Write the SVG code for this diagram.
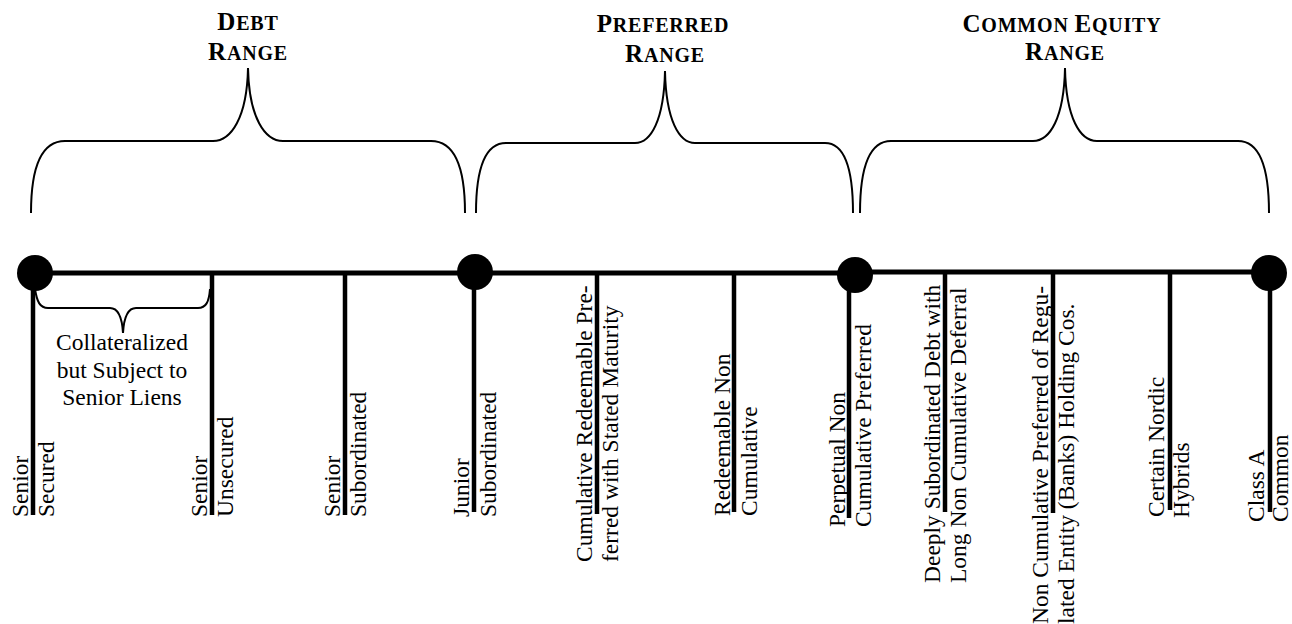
<svg xmlns="http://www.w3.org/2000/svg" width="1292" height="624" viewBox="0 0 1292 624">
<style>
text{font-family:"Liberation Serif","Times New Roman",serif;fill:#000}
.lbl{font-size:23.5px}
.hd{font-weight:bold;font-size:25px;letter-spacing:0.8px}
.sc{font-size:20px}
.brace{fill:none;stroke:#000;stroke-width:2}
.tick{stroke:#000;stroke-width:4.5}
.axis{stroke:#000;stroke-width:5;fill:none}
.dot{fill:#000}
</style>
<g id="connectors">
<path class="axis" d="M35,273 H855 M855,272 H1269"/>
</g>
<g id="debt-range">
<path class="brace" d="M31,213 C31,165 42,141 65,141 L213,141 C231,141 247,118 248,68 C249,118 265,141 283,141 L431,141 C454,141 465,165 465,213"/>
<text class="hd" x="248" y="30" text-anchor="middle">D<tspan class="sc">EBT</tspan></text>
<text class="hd" x="248" y="60" text-anchor="middle">R<tspan class="sc">ANGE</tspan></text>
</g>
<g id="preferred-range">
<path class="brace" d="M476,213 C476,166 486,143 506,143 L635,143 C651,143 664,120 665,71 C666,120 679,143 695,143 L825,143 C844,143 853,166 853,213"/>
<text class="hd" x="663" y="32" text-anchor="middle">P<tspan class="sc">REFERRED</tspan></text>
<text class="hd" x="665" y="62" text-anchor="middle">R<tspan class="sc">ANGE</tspan></text>
</g>
<g id="common-range">
<path class="brace" d="M860,213 C860,165 870,141 891,141 L1033,141 C1050,141 1064,118 1065,68 C1066,118 1080,141 1097,141 L1238,141 C1259,141 1269,165 1269,213"/>
<text class="hd" x="1062" y="32" text-anchor="middle">C<tspan class="sc">OMMON </tspan>E<tspan class="sc">QUITY</tspan></text>
<text class="hd" x="1065" y="60" text-anchor="middle">R<tspan class="sc">ANGE</tspan></text>
</g>
<g id="collateralized">
<path class="brace" d="M35,289 C37,302 40,308 48,308 L110,308 C118,308 122,316 123,333 C124,316 128,308 136,308 L198,308 C206,308 209,302 210,289"/>
<text class="lbl" text-anchor="middle"><tspan x="122" y="350">Collateralized</tspan><tspan x="122" y="377.5">but Subject to</tspan><tspan x="122" y="405">Senior Liens</tspan></text>
</g>
<g id="senior-secured">
<line class="tick" x1="33" y1="273" x2="33" y2="515"/>
<text class="lbl" transform="translate(28,517) rotate(-90)">Senior</text>
<text class="lbl" transform="translate(54,517) rotate(-90)">Secured</text>
</g>
<g id="senior-unsecured">
<line class="tick" x1="212" y1="273" x2="212" y2="515"/>
<text class="lbl" transform="translate(207,517) rotate(-90)">Senior</text>
<text class="lbl" transform="translate(233,517) rotate(-90)">Unsecured</text>
</g>
<g id="senior-subordinated">
<line class="tick" x1="345" y1="273" x2="345" y2="515"/>
<text class="lbl" transform="translate(340,517) rotate(-90)">Senior</text>
<text class="lbl" transform="translate(366,517) rotate(-90)">Subordinated</text>
</g>
<g id="junior-subordinated">
<line class="tick" x1="474" y1="273" x2="474" y2="512"/>
<text class="lbl" transform="translate(469,517) rotate(-90)">Junior</text>
<text class="lbl" transform="translate(496,517) rotate(-90)">Subordinated</text>
</g>
<g id="cumulative-redeemable">
<line class="tick" x1="597" y1="273" x2="597" y2="514"/>
<text class="lbl" transform="translate(592,562) rotate(-90)">Cumulative Redeemable Pre-</text>
<text class="lbl" transform="translate(618,562) rotate(-90)">ferred with Stated Maturity</text>
</g>
<g id="redeemable-non-cumulative">
<line class="tick" x1="734" y1="273" x2="734" y2="512"/>
<text class="lbl" transform="translate(730,516) rotate(-90)">Redeemable Non</text>
<text class="lbl" transform="translate(757,516) rotate(-90)">Cumulative</text>
</g>
<g id="perpetual-non-cumulative">
<line class="tick" x1="849" y1="275" x2="849" y2="518"/>
<text class="lbl" transform="translate(845,527) rotate(-90)">Perpetual Non</text>
<text class="lbl" transform="translate(871,527) rotate(-90)">Cumulative Preferred</text>
</g>
<g id="deeply-subordinated">
<line class="tick" x1="945" y1="272" x2="945" y2="512"/>
<text class="lbl" transform="translate(940,583) rotate(-90)">Deeply Subordinated Debt with</text>
<text class="lbl" transform="translate(966,583) rotate(-90)">Long Non Cumulative Deferral</text>
</g>
<g id="non-cumulative-regulated">
<line class="tick" x1="1053" y1="272" x2="1053" y2="513"/>
<text class="lbl" transform="translate(1048,624) rotate(-90)">Non Cumulative Preferred of Regu-</text>
<text class="lbl" transform="translate(1074,624) rotate(-90)">lated Entity (Banks) Holding Cos.</text>
</g>
<g id="certain-nordic-hybrids">
<line class="tick" x1="1170" y1="272" x2="1170" y2="510"/>
<text class="lbl" transform="translate(1164,517) rotate(-90)">Certain Nordic</text>
<text class="lbl" transform="translate(1189,518) rotate(-90)">Hybrids</text>
</g>
<g id="class-a-common">
<line class="tick" x1="1270" y1="273" x2="1270" y2="512"/>
<text class="lbl" transform="translate(1264,522) rotate(-90)">Class A</text>
<text class="lbl" transform="translate(1288,522) rotate(-90)">Common</text>
</g>
<g id="dots">
<circle class="dot" cx="35" cy="273" r="18"/>
<circle class="dot" cx="475" cy="272" r="18"/>
<circle class="dot" cx="855" cy="275" r="18"/>
<circle class="dot" cx="1269" cy="273" r="18"/>
</g>
</svg>
